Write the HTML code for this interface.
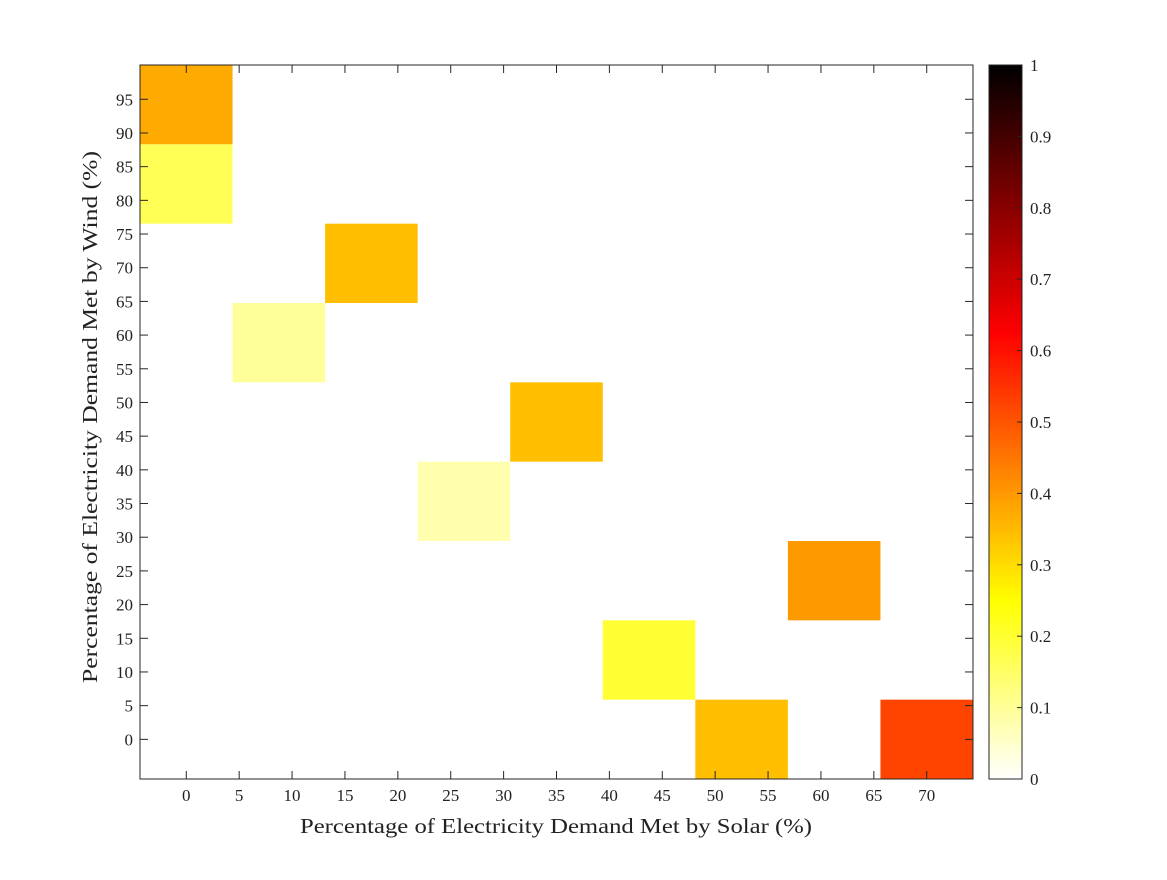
<!DOCTYPE html>
<html><head><meta charset="utf-8"><style>
body{margin:0;background:#fff;}
svg text{font-family:"Liberation Serif",serif;font-size:17px;fill:#222;}
</style></head><body>
<svg id="chart" width="1167" height="875" xmlns="http://www.w3.org/2000/svg">
<g id="cells"></g>
<g id="axes"></g>
<g id="cbar"></g>
<text x="556" y="833" text-anchor="middle" textLength="512" lengthAdjust="spacingAndGlyphs" style="font-size:21px">Percentage of Electricity Demand Met by Solar (%)</text>
<text transform="translate(97,417) rotate(-90)" text-anchor="middle" textLength="532" lengthAdjust="spacingAndGlyphs" style="font-size:21px">Percentage of Electricity Demand Met by Wind (%)</text>
</svg>
<script>
const xTicks=[0,5,10,15,20,25,30,35,40,45,50,55,60,65,70];
const yTicks=[0,5,10,15,20,25,30,35,40,45,50,55,60,65,70,75,80,85,90,95];
const cbTicks=[0,0.1,0.2,0.3,0.4,0.5,0.6,0.7,0.8,0.9,1];
const cellCol=[0,0,2,1,4,3,7,5,6,8];
const cellRow=[8,7,6,5,4,3,2,1,0,0];
const cellVal=[0.375,0.167,0.344,0.1,0.344,0.08,0.4,0.2,0.344,0.525];
const nCols=9,nRows=9;
const L=140,R=973,T=65,B=779;
const xStep=70/8, yStep=94.2/8;
const xMin=-xStep/2,xMax=70+xStep/2,yMin=-yStep/2,yMax=94.2+yStep/2;
const sx=v=>L+(v-xMin)/(xMax-xMin)*(R-L);
const sy=v=>B-(v-yMin)/(yMax-yMin)*(B-T);
function hot(v){const t=1-v;const r=Math.min(1,t/0.375),g=Math.max(0,Math.min(1,(t-0.375)/0.375)),b=Math.max(0,Math.min(1,(t-0.75)/0.25));
return `rgb(${Math.round(r*255)},${Math.round(g*255)},${Math.round(b*255)})`;}
const NS='http://www.w3.org/2000/svg';
function mk(tag,attrs,parent){const e=document.createElementNS(NS,tag);for(const k in attrs)e.setAttribute(k,attrs[k]);parent.appendChild(e);return e;}
const cells=document.getElementById('cells');
cellVal.forEach((v,i)=>{
 const cx=cellCol[i]*xStep, cy=cellRow[i]*yStep;
 const x0=sx(cx-xStep/2),x1=sx(cx+xStep/2),y0=sy(cy+yStep/2),y1=sy(cy-yStep/2);
 const r=mk('rect',{x:x0,y:y0,width:x1-x0,height:y1-y0,fill:hot(v)},cells);
 
 
});
const ax=document.getElementById('axes');
const frame=mk('rect',{x:L,y:T,width:R-L,height:B-T,fill:'none',stroke:'#262626','stroke-width':1},ax);


xTicks.forEach(v=>{const x=sx(v);
 mk('line',{x1:x,x2:x,y1:B,y2:B-8,stroke:'#262626'},ax);
 mk('line',{x1:x,x2:x,y1:T,y2:T+8,stroke:'#262626'},ax);
 const t=mk('text',{x:x,y:B+22,'text-anchor':'middle'},ax);t.textContent=v;
 
 
});
yTicks.forEach(v=>{const y=sy(v);
 mk('line',{x1:L,x2:L+8,y1:y,y2:y,stroke:'#262626'},ax);
 mk('line',{x1:R,x2:R-8,y1:y,y2:y,stroke:'#262626'},ax);
 const t=mk('text',{x:L-7,y:y+6,'text-anchor':'end'},ax);t.textContent=v;
 
 
});
const cb=document.getElementById('cbar');
const CL=989,CR=1022,CT=65,CB=779;
for(let i=0;i<200;i++){const v0=i/200;
 mk('rect',{x:CL,y:CB-(i+1)/200*(CB-CT),width:CR-CL,height:(CB-CT)/200+0.6,fill:hot(v0+0.0025)},cb);}
const cf=mk('rect',{x:CL,y:CT,width:CR-CL,height:CB-CT,fill:'none',stroke:'#262626'},cb);


cbTicks.forEach(v=>{const y=CB-v*(CB-CT);
 mk('line',{x1:CR,x2:CR-5,y1:y,y2:y,stroke:'#262626'},cb);
 const t=mk('text',{x:CR+8,y:y+6},cb);t.textContent=v;
 
 
});
</script>
</body></html>
